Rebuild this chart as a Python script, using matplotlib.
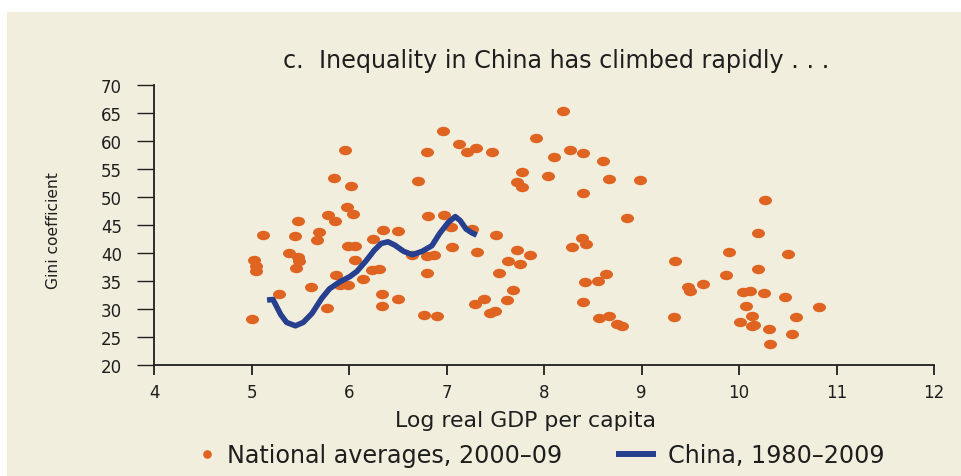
import matplotlib
matplotlib.use("Agg")
import matplotlib.pyplot as plt
from matplotlib.markers import MarkerStyle
from matplotlib.transforms import Affine2D
from matplotlib.lines import Line2D
from matplotlib.patches import Rectangle

# National averages, 2000-09 (log real GDP per capita, Gini)
nat_x = [5.96, 5.85, 6.02, 5.98, 6.04, 5.78, 5.86, 5.48, 5.12, 5.45, 5.69, 5.67,
         5.99, 6.06, 6.25, 6.35, 6.50, 5.38, 5.48, 5.49, 5.46, 5.03, 5.05, 5.05,
         6.06, 5.87, 6.24, 6.31, 6.14, 5.91, 5.99, 5.61, 5.28, 6.34, 6.34, 6.50,
         5.77, 5.00,
         6.71, 6.77, 6.65, 6.81, 6.80, 6.80, 6.87,
         8.19, 6.96, 7.13, 6.80, 7.21, 7.30, 7.47, 7.92, 8.10, 8.27, 8.40, 8.60,
         7.77, 7.72, 7.77, 8.04, 8.67, 8.98, 8.40, 8.85, 6.97, 7.05, 7.26, 7.51,
         7.06, 7.31, 7.72, 7.86, 7.63, 7.75, 8.39, 8.43, 8.29, 9.34, 7.54, 8.64,
         8.42, 8.55, 7.68, 7.38, 7.29, 7.62, 8.40, 6.90, 7.45, 7.50, 8.56, 8.67,
         8.75, 8.80, 9.33,
         10.27, 10.19, 9.90, 10.50, 10.19, 9.87, 9.48, 9.50, 9.63, 10.04, 10.11,
         10.26, 10.47, 10.07, 10.82, 10.13, 10.58, 10.01, 10.13, 10.15, 10.31,
         10.54, 10.32]
nat_y = [58.4, 53.4, 51.9, 48.3, 47.0, 46.7, 45.8, 45.8, 43.2, 43.1, 43.7, 42.4,
         41.2, 41.2, 42.5, 44.1, 43.9, 40.0, 39.3, 38.5, 37.4, 38.8, 37.6, 36.7,
         38.8, 36.1, 36.9, 37.2, 35.4, 34.2, 34.2, 34.0, 32.6, 32.7, 30.6, 31.7,
         30.2, 28.3,
         52.9, 29.0, 39.7, 46.6, 39.4, 36.5, 39.7,
         65.3, 61.8, 59.5, 58.0, 58.0, 58.8, 58.0, 60.6, 57.2, 58.4, 57.9, 56.5,
         54.5, 52.7, 51.7, 53.7, 53.2, 53.0, 50.8, 46.3, 46.8, 44.7, 44.2, 43.3,
         41.0, 40.1, 40.6, 39.7, 38.5, 38.0, 42.7, 41.6, 41.1, 38.5, 36.5, 36.3,
         34.8, 35.0, 33.4, 31.8, 30.9, 31.6, 31.2, 28.7, 29.3, 29.6, 28.4, 28.7,
         27.3, 26.9, 28.6,
         49.4, 43.5, 40.1, 39.8, 37.2, 36.0, 34.0, 33.3, 34.5, 33.0, 33.3,
         32.8, 32.1, 30.6, 30.4, 28.8, 28.5, 27.6, 27.0, 27.2, 26.4,
         25.6, 23.8]

# China, 1980-2009
china_x = [5.16, 5.22, 5.30, 5.36, 5.45, 5.53, 5.62, 5.72, 5.80, 5.90, 6.01, 6.08,
           6.17, 6.26, 6.33, 6.40, 6.47, 6.56, 6.65, 6.75, 6.85, 6.93, 7.02, 7.09,
           7.14, 7.20, 7.26, 7.31]
china_y = [31.6, 31.7, 29.0, 27.6, 27.0, 27.6, 29.2, 31.9, 33.6, 34.8, 35.8, 36.7,
           38.5, 40.5, 41.7, 42.0, 41.4, 40.3, 39.7, 40.3, 41.3, 43.5, 45.5, 46.5,
           45.8, 44.3, 43.6, 43.2]

x_ticks = [4, 5, 6, 7, 8, 9, 10, 11, 12]
y_ticks = [20, 25, 30, 35, 40, 45, 50, 55, 60, 65, 70]

BG = "#F2EEDD"
ORANGE = "#DF6321"
BLUE = "#263F8E"
INK = "#1E1E1E"
FAM = ["DejaVu Sans"]

W, H = 962, 477
fig = plt.figure(figsize=(W / 100, H / 100), dpi=100, facecolor="white")
fig.patches.append(Rectangle((7 / W, 0), 1, (H - 13) / H, transform=fig.transFigure,
                             facecolor=BG, edgecolor="none", zorder=-10))

ax = fig.add_axes([154 / W, (H - 366) / H, (934 - 154) / W, (366 - 86) / H])
ax.set_facecolor(BG)
ax.patch.set_alpha(0)

ell = MarkerStyle("o", transform=Affine2D().scale(1.38, 1.0))
ax.plot(nat_x, nat_y, linestyle="none", marker=ell, markersize=6.8,
        markerfacecolor=ORANGE, markeredgecolor="none", zorder=2, clip_on=False)
ax.plot(china_x, china_y, color=BLUE, lw=4, solid_capstyle="butt",
        solid_joinstyle="round", zorder=3)

ax.set_xlim(4, 12)
ax.set_ylim(20, 70)
ax.set_xticks(x_ticks)
ax.set_yticks(y_ticks)
for s in ("top", "right"):
    ax.spines[s].set_visible(False)
for s in ("left", "bottom"):
    ax.spines[s].set_linewidth(1.3)
    ax.spines[s].set_color(INK)
ax.tick_params(axis="y", direction="out", length=12, width=1.0, pad=11,
               labelsize=12, colors=INK)
ax.tick_params(axis="x", direction="out", length=7, width=1.3, pad=6,
               labelsize=12, colors=INK)
for lab in ax.get_xticklabels() + ax.get_yticklabels():
    lab.set_family(FAM)

fig.text(556 / W, 1 - 61 / H, "c.  Inequality in China has climbed rapidly . . .",
         ha="center", va="center", fontsize=17.2, family=FAM, color=INK)
fig.text(54 / W, 1 - 231 / H, "Gini coefficient", rotation=90, ha="center",
         va="center", fontsize=11.2, family=FAM, color=INK)
fig.text(526 / W, 1 - 421 / H, "Log real GDP per capita", ha="center", va="center",
         fontsize=15.8, family=FAM, color=INK)

FS = 17.2
h_dot = Line2D([], [], linestyle="none", marker="o", markersize=6.2,
               markerfacecolor=ORANGE, markeredgecolor="none")
h_line = Line2D([], [], color=BLUE, lw=4.3, solid_capstyle="butt")
leg1 = fig.legend([h_dot], ["National averages, 2000\u201309"], loc="center left",
                  bbox_to_anchor=(200 / W, 1 - 456 / H), frameon=False,
                  handlelength=0.6, handletextpad=0.55, borderaxespad=0, borderpad=0,
                  prop={"family": FAM, "size": FS})
leg2 = fig.legend([h_line], ["China, 1980\u20132009"], loc="center left",
                  bbox_to_anchor=(616 / W, 1 - 456 / H), frameon=False,
                  handlelength=1.67, handletextpad=0.5, borderaxespad=0, borderpad=0,
                  prop={"family": FAM, "size": FS})
for lg in (leg1, leg2):
    for t in lg.get_texts():
        t.set_color(INK)

fig.savefig("out.png", dpi=100, facecolor="white")
